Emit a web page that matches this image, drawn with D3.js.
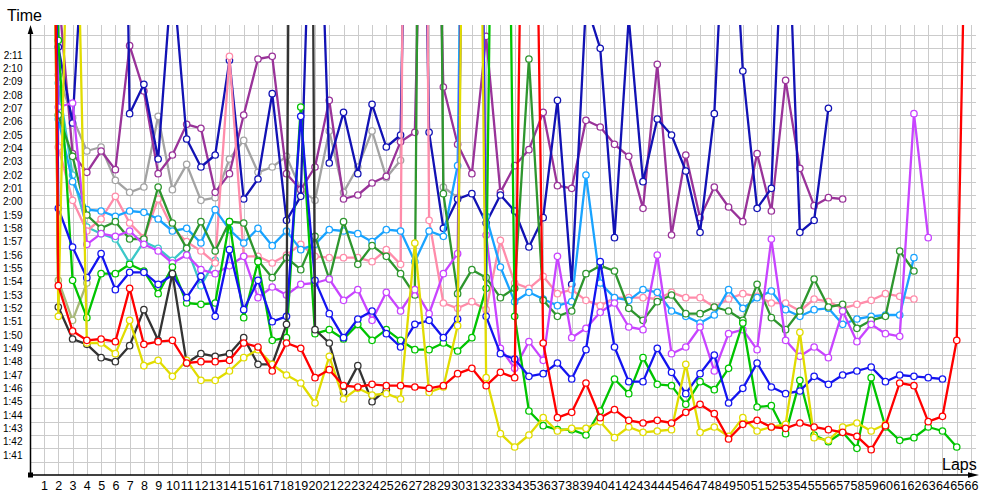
<!DOCTYPE html>
<html>
<head>
<meta charset="utf-8">
<script src="https://cdn.jsdelivr.net/npm/d3@7"></script>
<style>
  html, body { margin: 0; padding: 0; background: #fff; }
  svg { display: block; }
  text { font-family: "Liberation Sans", Arial, sans-serif; }
</style>
</head>
<body>
<svg id="chart" width="1000" height="500"></svg>
<script>
// ---------- DATA (lap times in seconds; null = no lap) ----------
const laps = d3.range(1, 67);
const yTickLabels = ["1:41","1:42","1:43","1:44","1:45","1:46","1:47","1:48","1:49","1:50",
  "1:51","1:52","1:53","1:54","1:55","1:56","1:57","1:58","1:59","2:00",
  "2:01","2:02","2:03","2:04","2:05","2:06","2:07","2:08","2:09","2:10","2:11"];

const red = [229.5,113.7,110.3,109.6,109.7,109.5,113.5,109.3,109.5,109.6,
  107.9,108.0,108.0,108.1,109.4,109.1,107.3,109.4,109.0,106.8,
  107.4,106.2,106.1,106.3,106.2,106.2,106.1,106.0,106.2,107.1,
  107.5,106.2,107.2,106.8,182.5,109.4,103.8,104.2,106.4,103.8,
  104.4,103.6,103.4,103.6,103.4,104.2,104.8,104.1,102.2,103.3,
  103.6,103.1,103.0,103.4,103.1,102.9,102.7,102.4,101.4,103.2,
  106.4,106.2,103.5,103.9,109.6,163.5];
const yellow = [224.5,111.4,159.5,109.4,109.4,108.6,111.1,107.7,108.1,106.9,
  108.1,106.6,106.6,107.3,108.3,108.9,107.8,107.0,106.4,104.9,
  108.4,105.2,106.0,105.5,105.6,105.2,116.9,105.7,106.1,110.7,
  209.5,106.8,102.6,101.6,102.5,103.8,102.8,103.0,103.0,103.5,
  102.3,103.1,102.7,102.8,102.9,107.8,102.7,103.1,102.4,103.8,
  102.8,103.1,103.3,110.2,102.3,102.1,103.1,103.4,102.8,103.3];
const black = [224.5,112.1,109.7,109.3,108.3,108.0,109.2,111.9,109.6,114.6,
  107.9,108.6,108.4,108.6,109.8,107.8,107.8,110.8,294.5,110.4,
  109.4,105.7,107.7,105.0,105.9];
const gray = [227.5,129.5,126.3,123.8,124.1,121.6,120.7,121.1,126.4,120.9,
  122.8,120.1,120.3,123.2,124.6,122.2,122.6,123.4,120.9,120.1,
  125.3,120.7,122.6,125.3,121.8,123.1,204.5,229.5,121.1,120.3];
const purple = [239.5,135.8,123.6,122.2,123.8,122.4,131.7,128.3,122.1,123.5,
  125.8,125.5,120.7,122.1,126.5,130.7,130.9,122.1,120.9,122.6,
  127.6,120.2,120.5,121.4,121.9,124.5,125.2,169.5,128.6,124.3,
  122.1,132.4,120.7,122.7,123.9,126.7,121.2,121.0,126.1,125.6,
  124.3,123.4,119.5,130.3,117.5,123.5,118.8,121.1,119.6,118.5,
  123.6,119.3,129.1,122.5,119.7,120.3,120.2];
const navy = [239.5,131.6,125.9,144.5,174.5,199.5,126.6,128.8,123.2,137.5,
  124.7,122.6,123.5,130.6,120.2,121.7,128.1,118.6,120.4,154.5,
  122.9,126.7,122.1,127.3,124.1,125.0,183.5,125.2,118.0,120.2,
  120.6,118.4,120.5,119.3,116.6,118.8,127.6,113.8,134.9,131.5,
  117.3,133.8,121.5,126.2,125.0,122.3,117.7,126.6,148.5,129.8,
  119.5,121.0,146.5,117.7,118.6,127.0];
const blue = [234.5,119.5,116.6,114.3,116.1,113.4,114.7,114.7,113.8,114.5,
  112.8,114.4,111.4,116.4,111.9,114.1,111.0,111.4,126.4,114.1,
  111.6,109.8,111.2,111.8,110.1,109.1,110.8,111.1,109.8,111.2,
  219.5,111.4,108.6,108.2,106.9,107.1,107.9,106.7,108.9,115.5,
  109.1,106.5,106.5,109.0,107.2,105.6,107.1,108.5,104.9,106.0,
  107.9,106.1,105.6,105.8,106.9,106.3,107.0,107.3,107.6,106.5,
  107.0,106.9,106.8,106.7];
const green = [224.5,132.1,114.1,111.3,114.6,114.6,115.3,114.8,113.1,115.1,
  112.4,112.3,112.4,118.5,111.3,115.5,109.6,109.8,127.1,110.1,
  110.4,109.7,110.8,109.6,110.4,109.6,108.9,108.9,109.4,108.8,
  109.8,113.5,197.5,111.4,104.3,103.2,102.9,102.9,102.5,104.3,
  106.7,105.6,108.3,106.3,106.2,104.8,106.5,105.9,107.5,110.9,
  104.6,104.7,102.6,106.6,102.5,102.0,102.7,101.5,106.8,103.1,
  102.1,102.3,103.1,102.8,101.6];
const darkGreen = [227.5,126.5,123.4,119.0,118.0,118.5,117.2,117.2,121.1,118.4,
  116.5,118.5,116.3,118.5,118.4,115.6,114.3,115.8,114.9,117.4,
  114.2,118.5,115.3,116.7,115.9,114.6,113.0,239.5,120.6,113.1,
  114.9,114.3,112.8,113.5,130.7,112.6,111.4,111.8,114.6,115.2,
  114.8,112.0,111.1,112.5,113.0,111.6,111.6,112.1,111.8,111.1,
  113.8,111.3,110.4,111.8,114.2,112.1,112.3,110.5,111.1,111.4,
  116.3,114.8];
const skyBlue = [229.5,126.2,121.5,119.4,119.3,118.9,119.3,119.2,118.7,117.8,
  118.0,116.9,119.4,117.9,116.9,118.0,116.7,117.8,116.4,116.8,
  117.9,117.8,117.6,117.0,117.9,117.8,115.5,117.8,117.4,122.7,
  199.5,118.9,115.1,112.5,113.2,112.7,112.2,112.5,122.0,113.9,
  112.8,112.6,113.4,113.2,111.8,111.4,110.9,111.5,113.4,112.0,
  112.8,113.3,111.9,111.4,111.9,112.0,110.8,111.2,111.4,111.5,
  111.5,115.8];
const turquoise = [224.5,128.9,122.0,118.1,117.6,117.2,115.4,117.0,116.5,115.6,
  116.6,113.7,115.6];
const pink = [231.5,124.1,120.1,117.8,118.7,120.4,118.4,117.3,120.2,118.0,
  117.0,116.3,115.4,130.9,115.9,115.9,115.4,116.0,116.8,115.9,
  115.8,115.8,115.8,115.5,116.4,115.3,259.5,118.6,112.4,112.0,
  112.5,111.9,117.1,113.9,113.5,114.4,113.1,113.4,112.6,112.2,
  112.8,112.8,112.8,112.7,113.2,112.8,112.8,112.1,112.7,113.1,
  112.9,112.4,112.4,111.8,112.7,112.5,112.0,112.3,112.6,113.1,
  112.9,112.7];
const violet = [229.5,127.1,127.4,116.8,117.6,117.4,117.8,116.8,116.3,115.4,
  116.0,114.9,114.6,115.2,115.9,112.8,113.6,113.0,113.8,113.9,
  114.2,112.6,113.4,111.1,113.2,111.8,113.4,111.6,114.6,116.1,
  199.5,117.5,109.0,107.5,109.5,108.1,115.9,109.8,110.5,111.7,
  112.4,110.6,110.4,116.0,108.6,109.1,110.6,107.3,110.1,110.4,
  108.9,117.2,109.6,108.4,109.1,108.3,111.8,109.5,110.8,110.1,
  109.9,126.6,117.3];
const olive = [224.5,114.1,111.1,113.9];

// series list built from the arrays above (bottom-most first)
const seriesList = [
  {name: "gray", color: "#a3a3a3", values: gray},
  {name: "olive", color: "#a8b878", values: olive},
  {name: "purple", color: "#993399", values: purple},
  {name: "navy", color: "#1212b4", values: navy},
  {name: "turquoise", color: "#3cc8c8", values: turquoise},
  {name: "pink", color: "#ff8caa", values: pink},
  {name: "skyBlue", color: "#19a3ff", values: skyBlue},
  {name: "darkGreen", color: "#2e962e", values: darkGreen},
  {name: "violet", color: "#c844ff", values: violet},
  {name: "green", color: "#00c400", values: green},
  {name: "blue", color: "#1414f0", values: blue},
  {name: "black", color: "#333333", values: black},
  {name: "yellow", color: "#e1dc00", values: yellow},
  {name: "red", color: "#ff0000", values: red}
];

(function draw() {
  const svg = d3.select("#chart");
  const pLeft = 30.5, pBottom = 475, pTop = 25, pRight = 976;
  const x = d3.scaleLinear().domain([0, 66]).range([29.8, 971]);
  const y = d3.scaleLinear().domain([99.5, 133.25]).range([pBottom, pTop]);

  const parseTime = s => { const p = s.split(":"); return +p[0] * 60 + +p[1]; };
  const yTickValues = yTickLabels.map(parseTime);

  // grid
  const grid = svg.append("g").attr("stroke", "#cbcbcb").attr("stroke-width", 1).attr("shape-rendering", "crispEdges");
  grid.selectAll("line.v").data(laps).join("line").attr("class", "v")
    .attr("x1", d => Math.round(x(d)) + 0.5).attr("x2", d => Math.round(x(d)) + 0.5)
    .attr("y1", pTop).attr("y2", pBottom);
  grid.selectAll("line.h").data(d3.range(100.5, 133, 1)).join("line").attr("class", "h")
    .attr("x1", pLeft).attr("x2", pRight)
    .attr("y1", d => Math.round(y(d)) + 0.5).attr("y2", d => Math.round(y(d)) + 0.5);

  // clip
  svg.append("clipPath").attr("id", "plotClip").append("rect")
    .attr("x", pLeft + 1).attr("y", pTop).attr("width", pRight - pLeft).attr("height", pBottom - pTop - 1);

  const plot = svg.append("g").attr("clip-path", "url(#plotClip)");
  const line = d3.line()
    .defined(d => d.v != null)
    .x(d => x(d.lap)).y(d => y(d.v));

  seriesList.forEach(s => {
    const pts = s.values.map((v, i) => ({lap: laps[i], v: v}));
    const g = plot.append("g").attr("class", "series-" + s.name);
    g.append("path").datum(pts)
      .attr("d", line)
      .attr("fill", "none").attr("stroke", s.color)
      .attr("stroke-width", 2.3).attr("stroke-linejoin", "round");
    g.selectAll("circle").data(pts.filter(d => d.v != null)).join("circle")
      .attr("cx", d => x(d.lap)).attr("cy", d => y(d.v)).attr("r", 3.2)
      .attr("fill", "#fff").attr("stroke", s.color).attr("stroke-width", 1.3);
  });

  // axes (D3 axes for the tick labels)
  const yAxis = d3.axisLeft(y).tickValues(yTickValues)
    .tickFormat((d, i) => yTickLabels[i]).tickSize(0).tickPadding(8);
  const yg = svg.append("g").attr("transform", `translate(${pLeft},0)`).call(yAxis);
  yg.select(".domain").remove();
  yg.selectAll("text").attr("font-size", "10px").attr("fill", "#000")
    .attr("font-family", "'Liberation Sans', Arial, sans-serif");

  const xAxis = d3.axisBottom(x).tickValues(laps).tickFormat(d => String(d)).tickSize(0).tickPadding(6);
  const xg = svg.append("g").attr("transform", `translate(0,${pBottom})`).call(xAxis);
  xg.select(".domain").remove();
  xg.selectAll("text").attr("font-size", "12.5px").attr("fill", "#000")
    .attr("font-family", "'Liberation Sans', Arial, sans-serif");

  // axis lines with arrows
  svg.append("line").attr("x1", pLeft).attr("x2", pLeft).attr("y1", pBottom).attr("y2", pTop + 6)
    .attr("stroke", "#000").attr("stroke-width", 1.5);
  svg.append("path").attr("d", `M${pLeft},${pTop} L${pLeft - 2.8},${pTop + 9} L${pLeft + 2.8},${pTop + 9} Z`).attr("fill", "#000");
  svg.append("line").attr("x1", pLeft).attr("x2", 972).attr("y1", pBottom).attr("y2", pBottom)
    .attr("stroke", "#000").attr("stroke-width", 1.5);
  svg.append("path").attr("d", `M979,${pBottom} L968,${pBottom - 2.8} L968,${pBottom + 2.8} Z`).attr("fill", "#000");
  svg.append("rect").attr("x", pLeft - 2.5).attr("y", pBottom - 2.5).attr("width", 5).attr("height", 5).attr("fill", "#000");

  // titles
  svg.append("text").attr("x", 7).attr("y", 21).attr("font-size", "16px").attr("fill", "#000").text("Time");
  svg.append("text").attr("x", 942).attr("y", 470).attr("font-size", "16px").attr("fill", "#000").text("Laps");
})();
</script>
</body>
</html>
